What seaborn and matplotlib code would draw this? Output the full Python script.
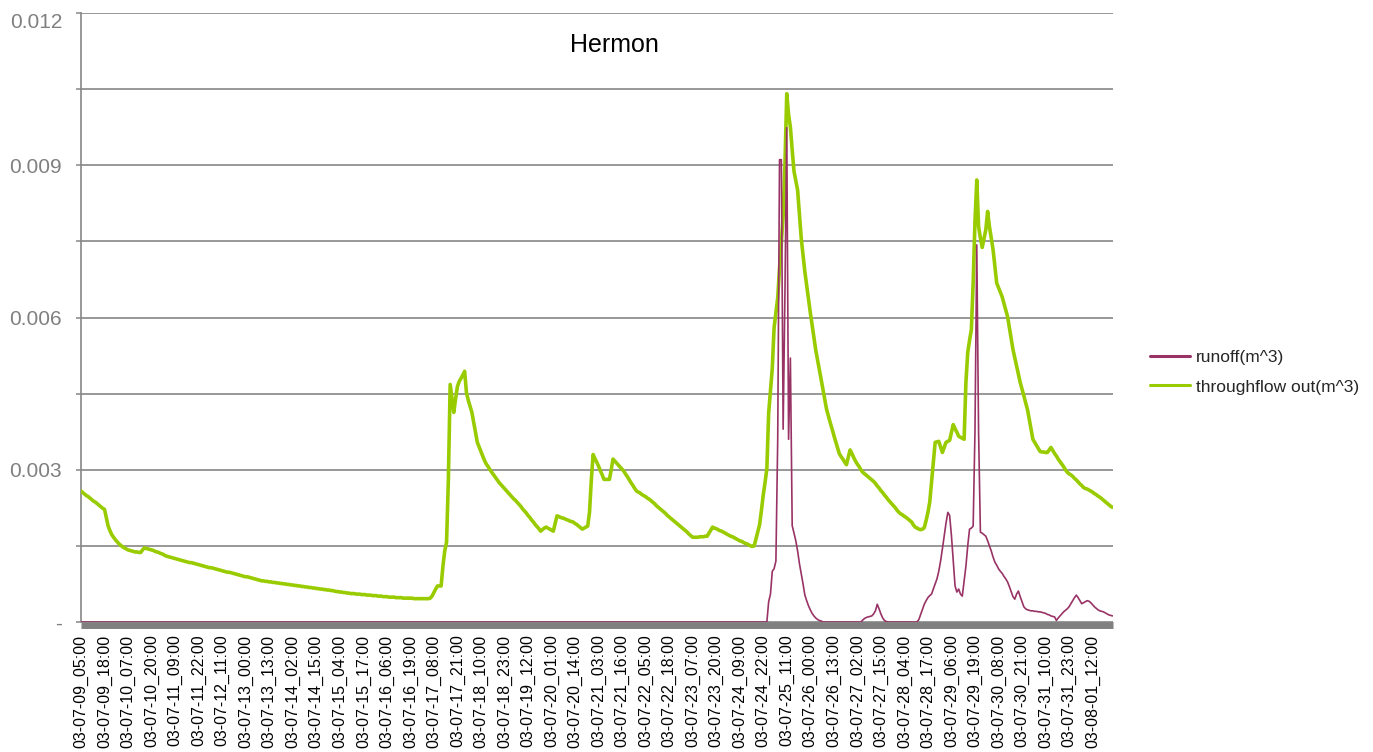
import matplotlib
matplotlib.use("Agg")
import matplotlib.pyplot as plt
import seaborn as sns
import pandas as pd
import numpy as np
from matplotlib.lines import Line2D

# Hourly series, stored in units of 1e-5 m^3
UNIT = 1e-5

time_labels = [
    "03-07-09_05:00", "03-07-09_18:00", "03-07-10_07:00", "03-07-10_20:00",
    "03-07-11_09:00", "03-07-11_22:00", "03-07-12_11:00", "03-07-13_00:00",
    "03-07-13_13:00", "03-07-14_02:00", "03-07-14_15:00", "03-07-15_04:00",
    "03-07-15_17:00", "03-07-16_06:00", "03-07-16_19:00", "03-07-17_08:00",
    "03-07-17_21:00", "03-07-18_10:00", "03-07-18_23:00", "03-07-19_12:00",
    "03-07-20_01:00", "03-07-20_14:00", "03-07-21_03:00", "03-07-21_16:00",
    "03-07-22_05:00", "03-07-22_18:00", "03-07-23_07:00", "03-07-23_20:00",
    "03-07-24_09:00", "03-07-24_22:00", "03-07-25_11:00", "03-07-26_00:00",
    "03-07-26_13:00", "03-07-27_02:00", "03-07-27_15:00", "03-07-28_04:00",
    "03-07-28_17:00", "03-07-29_06:00", "03-07-29_19:00", "03-07-30_08:00",
    "03-07-30_21:00", "03-07-31_10:00", "03-07-31_23:00", "03-08-01_12:00",
]
LABEL_EVERY = 13  # hours between axis labels

throughflow_out = [
    258, 255, 252, 249, 247, 244, 241, 238, 236, 233,
    230, 227, 224, 222, 205, 189, 180, 172, 167, 162,
    158, 154, 151, 148, 146, 144, 142, 141, 140, 139,
    138, 138, 137, 137, 142, 146, 145, 144, 143, 142,
    141, 139, 138, 137, 135, 134, 132, 130, 129, 128,
    127, 126, 125, 124, 123, 122, 121, 120, 119, 118,
    117, 117, 116, 115, 114, 113, 112, 111, 110, 109,
    108, 107, 107, 106, 105, 104, 103, 102, 101, 100,
    99, 98, 98, 97, 96, 95, 94, 93, 92, 91,
    90, 89, 89, 88, 87, 86, 85, 84, 83, 82,
    81, 81, 80, 80, 79, 79, 78, 78, 77, 77,
    76, 76, 75, 75, 74, 74, 73, 73, 72, 72,
    71, 71, 70, 70, 69, 69, 68, 68, 67, 67,
    66, 66, 65, 65, 64, 64, 63, 63, 62, 62,
    61, 60, 60, 59, 59, 58, 58, 57, 57, 56,
    56, 56, 55, 55, 55, 54, 54, 54, 53, 53,
    53, 52, 52, 52, 51, 51, 51, 50, 50, 50,
    49, 49, 49, 49, 48, 48, 48, 48, 47, 47,
    47, 47, 47, 47, 46, 46, 46, 46, 46, 46,
    46, 46, 46, 47, 51, 58, 65, 71, 71, 71,
    110, 140, 157, 280, 468, 440, 413, 440, 464, 474,
    480, 487, 494, 452, 437, 425, 413, 393, 373, 354,
    345, 336, 327, 318, 311, 306, 300, 295, 290, 285,
    280, 275, 271, 267, 263, 259, 255, 251, 247, 243,
    240, 236, 232, 228, 223, 219, 215, 210, 206, 201,
    197, 192, 188, 184, 179, 182, 185, 187, 185, 183,
    181, 179, 194, 209, 208, 206, 205, 204, 202, 201,
    199, 198, 197, 194, 192, 189, 186, 183, 185, 187,
    189, 216, 280, 330, 322, 315, 307, 298, 290, 281,
    281, 281, 281, 300, 321, 317, 313, 309, 305, 301,
    297, 291, 286, 280, 274, 269, 263, 258, 256, 254,
    251, 249, 247, 244, 242, 239, 236, 233, 229, 226,
    223, 220, 217, 214, 210, 207, 204, 201, 198, 195,
    192, 189, 186, 183, 180, 177, 173, 170, 167, 167,
    167, 167, 168, 168, 168, 169, 169, 175, 181, 187,
    185, 184, 182, 180, 179, 177, 175, 173, 171, 169,
    168, 166, 164, 162, 160, 159, 157, 155, 154, 152,
    150, 149, 150, 164, 178, 192, 220, 250, 275, 302,
    412, 456, 500, 580, 610, 639, 697, 750, 800, 902,
    1041, 1000, 975, 930, 888, 870, 851, 804, 756, 723,
    690, 663, 636, 610, 585, 560, 536, 517, 497, 478,
    458, 439, 419, 406, 393, 381, 368, 356, 344, 332,
    326, 321, 315, 310, 325, 339, 332, 324, 317, 311,
    306, 300, 295, 292, 289, 286, 283, 280, 277, 273,
    268, 264, 259, 255, 250, 246, 241, 237, 233, 229,
    225, 220, 216, 213, 211, 208, 206, 203, 200, 197,
    191, 187, 185, 183, 182, 183, 186, 200, 216, 236,
    275, 315, 354, 355, 356, 345, 334, 344, 354, 356,
    358, 374, 389, 381, 374, 366, 364, 362, 360, 472,
    531, 555, 576, 668, 789, 871, 779, 757, 738, 756,
    773, 809, 779, 756, 734, 701, 668, 659, 650, 641,
    628, 615, 602, 580, 559, 537, 521, 504, 488, 472,
    459, 446, 432, 419, 400, 380, 360, 354, 348, 342,
    336, 335, 335, 334, 334, 339, 344, 338, 332, 327,
    321, 316, 311, 306, 300, 295, 292, 290, 287, 283,
    280, 276, 272, 269, 265, 263, 262, 260, 258, 256,
    253, 251, 248, 246, 243, 240, 237, 234, 231, 228,
    226,
]

runoff = [
    0, 0, 0, 0, 0, 0, 0, 0, 0, 0, 0, 0, 0, 0, 0, 0, 0, 0, 0, 0,
    0, 0, 0, 0, 0, 0, 0, 0, 0, 0, 0, 0, 0, 0, 0, 0, 0, 0, 0, 0,
    0, 0, 0, 0, 0, 0, 0, 0, 0, 0, 0, 0, 0, 0, 0, 0, 0, 0, 0, 0,
    0, 0, 0, 0, 0, 0, 0, 0, 0, 0, 0, 0, 0, 0, 0, 0, 0, 0, 0, 0,
    0, 0, 0, 0, 0, 0, 0, 0, 0, 0, 0, 0, 0, 0, 0, 0, 0, 0, 0, 0,
    0, 0, 0, 0, 0, 0, 0, 0, 0, 0, 0, 0, 0, 0, 0, 0, 0, 0, 0, 0,
    0, 0, 0, 0, 0, 0, 0, 0, 0, 0, 0, 0, 0, 0, 0, 0, 0, 0, 0, 0,
    0, 0, 0, 0, 0, 0, 0, 0, 0, 0, 0, 0, 0, 0, 0, 0, 0, 0, 0, 0,
    0, 0, 0, 0, 0, 0, 0, 0, 0, 0, 0, 0, 0, 0, 0, 0, 0, 0, 0, 0,
    0, 0, 0, 0, 0, 0, 0, 0, 0, 0, 0, 0, 0, 0, 0, 0, 0, 0, 0, 0,
    0, 0, 0, 0, 0, 0, 0, 0, 0, 0, 0, 0, 0, 0, 0, 0, 0, 0, 0, 0,
    0, 0, 0, 0, 0, 0, 0, 0, 0, 0, 0, 0, 0, 0, 0, 0, 0, 0, 0, 0,
    0, 0, 0, 0, 0, 0, 0, 0, 0, 0, 0, 0, 0, 0, 0, 0, 0, 0, 0, 0,
    0, 0, 0, 0, 0, 0, 0, 0, 0, 0, 0, 0, 0, 0, 0, 0, 0, 0, 0, 0,
    0, 0, 0, 0, 0, 0, 0, 0, 0, 0, 0, 0, 0, 0, 0, 0, 0, 0, 0, 0,
    0, 0, 0, 0, 0, 0, 0, 0, 0, 0, 0, 0, 0, 0, 0, 0, 0, 0, 0, 0,
    0, 0, 0, 0, 0, 0, 0, 0, 0, 0, 0, 0, 0, 0, 0, 0, 0, 0, 0, 0,
    0, 0, 0, 0, 0, 0, 0, 0, 0, 0, 0, 0, 0, 0, 0, 0, 0, 0, 0, 0,
    0, 0, 0, 0, 0, 0, 0, 0, 0, 0, 0, 0, 0, 0, 0, 0, 0, 0, 0, 0,
    40, 55, 100, 105, 120, 360, 911, 911, 380, 650,
    974, 360, 520, 190, 175, 160, 140, 115, 95, 75,
    53, 42, 32, 24, 17, 12, 8, 5, 3, 2,
    0, 0, 0, 0, 0, 0, 0, 0, 0, 0, 0, 0, 0, 0, 0, 0, 0, 0, 0, 0, 0, 0,
    4, 7, 9, 10, 11, 12, 16, 22, 35, 26, 16, 8, 3, 1, 0,
    0, 0, 0, 0, 0, 0, 0, 0, 0, 0, 0, 0, 0, 0, 0, 0,
    5, 15, 25, 35, 42, 48, 52, 55, 65, 75, 85, 100, 120, 144, 170, 195, 216,
    210, 170, 120, 71, 59, 65, 55, 51, 80, 110,
    150, 183, 185, 189, 374, 743, 374, 177, 175, 172,
    169, 160, 150, 140, 128, 118, 112, 105, 100, 96,
    90, 85, 79, 70, 60, 50, 45, 55, 61, 50,
    40, 30, 26, 24, 23, 22, 22, 21, 21, 20,
    20, 19, 18, 17, 15, 14, 12, 11, 10, 3,
    8, 12, 16, 20, 23, 26, 30, 36, 42, 48,
    53, 48, 42, 36, 38, 40, 42, 41, 38, 34,
    30, 27, 24, 22, 21, 20, 18, 16, 14, 13,
    12,
]

y_ticks = [0.0, 0.0015, 0.003, 0.0045, 0.006, 0.0075, 0.009, 0.0105, 0.012]
y_tick_labels = ["-", "", "0.003", "", "0.006", "", "0.009", "", "0.012"]

RUNOFF_COLOR = "#993366"
THROUGH_COLOR = "#99CC00"
GRID_COLOR = "#868686"

sns.set_theme(style="white")
plt.rcParams["font.family"] = ["Liberation Sans", "DejaVu Sans"]

hours = np.arange(len(throughflow_out))
df = pd.DataFrame({
    "hour": hours,
    "runoff(m^3)": np.array(runoff) * UNIT,
    "throughflow out(m^3)": np.array(throughflow_out) * UNIT,
})

W, H = 1373, 752
fig = plt.figure(figsize=(W / 100, H / 100), dpi=100)
fig.patch.set_facecolor("white")
ax = fig.add_axes([81 / W, 1 - 622 / H, (1112.5 - 81) / W, (622 - 13) / H])

sns.lineplot(data=df, x="hour", y="throughflow out(m^3)", color=THROUGH_COLOR,
             lw=2.6, ax=ax, legend=False, zorder=2.6)
sns.lineplot(data=df, x="hour", y="runoff(m^3)", color=RUNOFF_COLOR,
             lw=1.2, ax=ax, legend=False, zorder=3)

ax.set_xlim(0, len(hours) - 1)
ax.set_ylim(0, 0.012)
ax.set_xlabel("")
ax.set_ylabel("")

# horizontal gridlines
ax.set_axisbelow(True)
ax.yaxis.grid(True, color=GRID_COLOR, lw=1.2)
ax.xaxis.grid(False)

# y axis
ax.set_yticks(y_ticks)
ax.set_yticklabels(y_tick_labels)
ax.tick_params(axis="y", left=True, length=3.6, width=1.1, color=GRID_COLOR,
               direction="out", pad=10, labelsize=15, labelcolor="#808080")
ax.get_yticklabels()[-1].set_verticalalignment("top")

# x axis: one vertical date label every 13 hours
ax.set_xticks(hours[::LABEL_EVERY])
ax.set_xticklabels(time_labels)
ax.tick_params(axis="x", bottom=True, length=0, pad=6.5, labelsize=11.5,
               labelcolor="black", labelrotation=90)

for side in ("top", "right"):
    ax.spines[side].set_visible(False)
ax.spines["left"].set_color(GRID_COLOR)
ax.spines["left"].set_linewidth(1.2)
ax.spines["bottom"].set_color("#808080")
ax.spines["bottom"].set_linewidth(5)
ax.spines["bottom"].set_capstyle("butt")
ax.spines["bottom"].set_position(("outward", 2.5))
ax.spines["bottom"].set_zorder(1.5)

fig.text(614 / W, 1 - 45 / H, "Hermon", ha="center", va="center",
         fontsize=18, color="black")

handles = [
    Line2D([], [], color=RUNOFF_COLOR, lw=2.2),
    Line2D([], [], color=THROUGH_COLOR, lw=2.2),
]
fig.legend(handles, ["runoff(m^3)", "throughflow out(m^3)"],
           loc="center left", bbox_to_anchor=(1150 / W, 1 - 372 / H),
           frameon=False, fontsize=12.5, handlelength=2.3,
           handletextpad=0.35, labelspacing=0.85, borderpad=0,
           borderaxespad=0)

fig.savefig("out.png", dpi=100, facecolor="white")
